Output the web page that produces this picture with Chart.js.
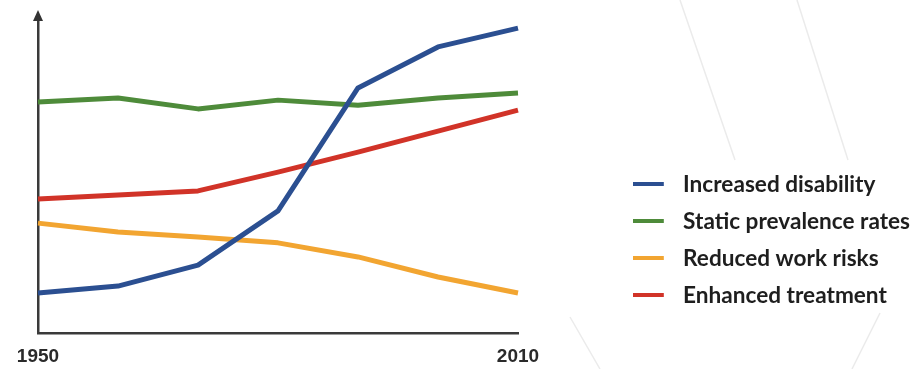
<!DOCTYPE html>
<html><head><meta charset="utf-8">
<script src="https://cdn.jsdelivr.net/npm/chart.js@4/dist/chart.umd.min.js"></script>
<style>html,body{margin:0;padding:0;background:#fff;} canvas{display:block;}</style>
</head><body>
<canvas id="c" width="915" height="369"></canvas>
<script>
const years = ['1950','1960','1970','1980','1990','2000','2010'];
const tickLabels = ['1950','2010'];
const seriesNames = ['Increased disability','Static prevalence rates','Reduced work risks','Enhanced treatment'];
const increasedDisability = [12.8, 15.0, 21.7, 39.0, 78.3, 91.4, 97.4];
const staticPrevalence   = [73.8, 75.1, 71.6, 74.4, 72.8, 75.1, 76.7];
const reducedWorkRisks   = [35.1, 32.3, 30.7, 28.8, 24.3, 17.9, 12.8];
const enhancedTreatment  = [42.8, 44.1, 45.4, 51.4, 57.8, 64.5, 71.2];
const seriesColors = ['#2b4f91','#4e8b3a','#f2a531','#d13328'];

function swatch(color){
  const c = document.createElement('canvas');
  c.width = 39; c.height = 4;
  const g = c.getContext('2d');
  g.fillStyle = color; g.fillRect(0,0,31,4);
  return c;
}

const decor = {
  id:'decor',
  beforeDraw(chart){
    const ctx = chart.ctx;
    ctx.save();
    ctx.strokeStyle = '#ebebeb';
    ctx.lineWidth = 1.5;
    [[680,0,735,160],[797,0,848,160],[570,317,600,369],[880,313,852,369]].forEach(s=>{
      ctx.beginPath(); ctx.moveTo(s[0],s[1]); ctx.lineTo(s[2],s[3]); ctx.stroke();
    });
    ctx.restore();
  }
};
const arrow = {
  id:'arrow',
  afterDraw(chart){
    const ctx = chart.ctx;
    const x = chart.chartArea.left;
    const t = chart.chartArea.top;
    ctx.save();
    ctx.fillStyle = '#333';
    ctx.beginPath();
    ctx.moveTo(x-5, t+1); ctx.lineTo(x+5, t+1); ctx.lineTo(x, t-10); ctx.closePath(); ctx.fill();
    ctx.restore();
  }
};

const series = [increasedDisability, staticPrevalence, reducedWorkRisks, enhancedTreatment];
const datasets = series.map((d,i)=>({
  label: seriesNames[i],
  data: d,
  borderColor: seriesColors[i],
  backgroundColor: seriesColors[i],
  borderWidth: 5,
  pointRadius: 0,
  pointHoverRadius: 0,
  pointStyle: swatch(seriesColors[i]),
  tension: 0,
  borderJoinStyle: 'round',
  clip: false
}));

new Chart(document.getElementById('c'), {
  type: 'line',
  data: { labels: years, datasets },
  options: {
    responsive: false,
    animation: false,
    events: [],
    layout: { padding: { top: 20, right: -5, bottom: 0, left: 0 } },
    plugins: {
      tooltip: { enabled: false },
      legend: {
        position: 'right',
        align: 'start',
        maxWidth: 340,
        title: { display: true, text: '', padding: { top: 124.3, bottom: 0 }, font: { size: 12 } },
        labels: {
          usePointStyle: true,
          pointStyleWidth: 39,
          padding: 14.4,
          color: '#1e1e1e',
          font: { family: 'Lato', size: 22.6, weight: 'bold' }
        }
      }
    },
    scales: {
      x: {
        offset: false,
        grid: { display: false, drawTicks: false },
        border: { display: true, color: '#3a3a3a', width: 2.5 },
        ticks: {
          autoSkip: false, maxRotation: 0, padding: 12,
          color: '#2a2a2a',
          font: { family: 'Liberation Sans', size: 19, weight: 'bold' },
          callback(v, i){ const l = years[i]; return tickLabels.includes(l) ? l : ''; }
        },
        afterFit(s){ s.height = 36; }
      },
      y: {
        min: 0, max: 100,
        grid: { display: false, drawTicks: false },
        border: { display: true, color: '#3a3a3a', width: 2.5 },
        ticks: { display: false },
        afterFit(s){ s.width = 38; }
      },
      y2: {
        position: 'right',
        min: 0, max: 100,
        grid: { display: false, drawTicks: false },
        border: { display: false },
        ticks: { display: false },
        afterFit(s){ s.width = Math.max(0, s.chart.width + 5 - s.chart.legend.width - 518); }
      }
    }
  },
  plugins: [decor, arrow]
});
</script>
</body></html>
